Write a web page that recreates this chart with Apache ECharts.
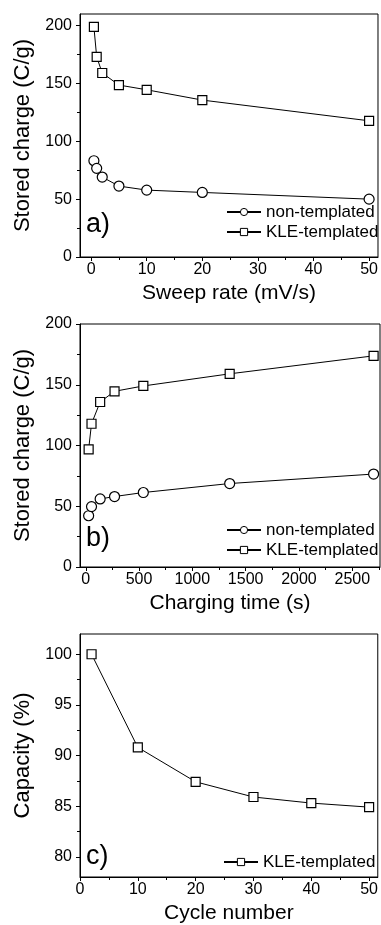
<!DOCTYPE html>
<html>
<head>
<meta charset="utf-8">
<script src="https://cdn.jsdelivr.net/npm/echarts@6/dist/echarts.min.js"></script>
<style>
    html, body { margin: 0; padding: 0; background: #fff; }
    #chart { width: 381px; height: 925px; }
</style>
</head>
<body>
<div id="chart"></div>
<script>
// Panel a) stored charge vs sweep rate
const sweepRate = [0.5, 1, 2, 5, 10, 20, 50];
const sweepNonTemplated = [83.2, 76.6, 69.1, 61.3, 57.8, 55.8, 50.0];
const sweepKLE = [198.9, 172.9, 159.0, 148.6, 144.5, 135.6, 117.7];

// Panel b) stored charge vs charging time
const chargeTime = [27, 54, 135, 270, 540, 1350, 2700];
const chargeNonTemplated = [42.2, 49.7, 56.0, 58.0, 61.3, 68.7, 76.5];
const chargeKLE = [96.8, 117.9, 135.8, 144.6, 149.0, 159.0, 173.8];

// Panel c) capacity retention vs cycle number
const cycleNumber = [2, 10, 20, 30, 40, 50];
const capacityKLE = [100, 90.8, 87.4, 85.9, 85.3, 84.9];

// Tick values
const sweepTicks = [0, 10, 20, 30, 40, 50];
const sweepMinor = [5, 15, 25, 35, 45];
const timeTicks = [0, 500, 1000, 1500, 2000, 2500];
const timeMinor = [250, 750, 1250, 1750, 2250, 2750];
const cycleTicks = [0, 10, 20, 30, 40, 50];
const cycleMinor = [5, 15, 25, 35, 45];
const chargeTicks = [0, 50, 100, 150, 200];
const chargeMinor = [25, 75, 125, 175];
const capTicks = [80, 85, 90, 95, 100];
const capMinor = [82.5, 87.5, 92.5, 97.5];

const FONT = "'Liberation Sans', Arial, sans-serif";

const zip = (xs, ys) => xs.map((x, i) => [x, ys[i]]);

function majorAxis(gridIndex, min, max, ticks, name, nameGap, isY) {
    return {
        type: 'value', gridIndex, min, max,
        position: isY ? 'left' : 'bottom',
        name, nameLocation: 'middle', nameGap,
        nameTextStyle: { fontFamily: FONT, fontSize: isY ? 22 : 21, color: '#000' },
        axisLine: { show: true, onZero: false, lineStyle: { color: '#000', width: 1 } },
        axisTick: { show: true, customValues: ticks, length: 4, inside: false, lineStyle: { color: '#000' } },
        axisLabel: {
            customValues: ticks, fontFamily: FONT, fontSize: 16, color: '#000',
            margin: isY ? 8 : 5, formatter: v => String(v)
        },
        splitLine: { show: false }
    };
}

function minorAxis(gridIndex, min, max, ticks, isY) {
    return {
        type: 'value', gridIndex, min, max,
        position: isY ? 'left' : 'bottom', offset: 0,
        axisLine: { show: false, onZero: false },
        axisTick: { show: true, customValues: ticks, length: 3, inside: false, lineStyle: { color: '#000' } },
        axisLabel: { show: false },
        splitLine: { show: false }
    };
}

function lineSeries(name, xi, yi, data, symbol, size) {
    return {
        name, type: 'line', xAxisIndex: xi, yAxisIndex: yi, data,
        symbol, symbolSize: size, showSymbol: true,
        lineStyle: { color: '#000', width: 1 },
        itemStyle: { color: '#fff', borderColor: '#000', borderWidth: 1.2 },
        emphasis: { disabled: true },
        z: symbol === 'circle' ? 3 : 4
    };
}

const gridBox = { show: true, left: 80, width: 300, height: 243, borderColor: '#000', borderWidth: 1, backgroundColor: 'transparent' };

const legendText = { fontFamily: FONT, fontSize: 17, color: '#000', lineHeight: 20 };
const legendBase = {
    orient: 'vertical', left: 226, itemWidth: 34, itemHeight: 9, itemGap: 0,
    padding: 0, textStyle: legendText, selectedMode: false,
    itemStyle: { color: '#fff', borderColor: '#000', borderWidth: 1 }
};

const chart = echarts.init(document.getElementById('chart'));
chart.setOption({
    animation: false,
    backgroundColor: '#fff',
    title: [
        { text: 'a)', left: 86, top: 211, padding: 0, textStyle: { fontFamily: FONT, fontSize: 27, fontWeight: 'normal', color: '#000' } },
        { text: 'b)', left: 86, top: 525, padding: 0, textStyle: { fontFamily: FONT, fontSize: 27, fontWeight: 'normal', color: '#000' } },
        { text: 'c)', left: 86, top: 843, padding: 0, textStyle: { fontFamily: FONT, fontSize: 27, fontWeight: 'normal', color: '#000' } }
    ],
    legend: [
        Object.assign({}, legendBase, { top: 202, data: ['non-templated', 'KLE-templated'] }),
        Object.assign({}, legendBase, { top: 520, data: ['non-templated', 'KLE-templated'] }),
        Object.assign({}, legendBase, { top: 852, left: 223, data: ['KLE-templated'] })
    ],
    grid: [
        Object.assign({}, gridBox, { top: 14 }),
        Object.assign({}, gridBox, { top: 324 }),
        Object.assign({}, gridBox, { top: 634 })
    ],
    xAxis: [
        majorAxis(0, -2, 51.6, sweepTicks, 'Sweep rate (mV/s)', 26, false),
        majorAxis(1, -54, 2760, timeTicks, 'Charging time (s)', 26, false),
        majorAxis(2, 0, 51.5, cycleTicks, 'Cycle number', 26, false),
        minorAxis(0, -2, 51.6, sweepMinor, false),
        minorAxis(1, -54, 2760, timeMinor, false),
        minorAxis(2, 0, 51.5, cycleMinor, false)
    ],
    yAxis: [
        majorAxis(0, 0, 210, chargeTicks, 'Stored charge (C/g)', 41, true),
        majorAxis(1, 0, 200, chargeTicks, 'Stored charge (C/g)', 41, true),
        majorAxis(2, 78, 102, capTicks, 'Capacity (%)', 33, true),
        minorAxis(0, 0, 210, chargeMinor, true),
        minorAxis(1, 0, 200, chargeMinor, true),
        minorAxis(2, 78, 102, capMinor, true)
    ],
    series: [
        lineSeries('non-templated', 0, 0, zip(sweepRate, sweepNonTemplated), 'circle', 10),
        lineSeries('KLE-templated', 0, 0, zip(sweepRate, sweepKLE), 'rect', 9),
        lineSeries('non-templated', 1, 1, zip(chargeTime, chargeNonTemplated), 'circle', 10),
        lineSeries('KLE-templated', 1, 1, zip(chargeTime, chargeKLE), 'rect', 9),
        lineSeries('KLE-templated', 2, 2, zip(cycleNumber, capacityKLE), 'rect', 9)
    ]
});
</script>
</body>
</html>
